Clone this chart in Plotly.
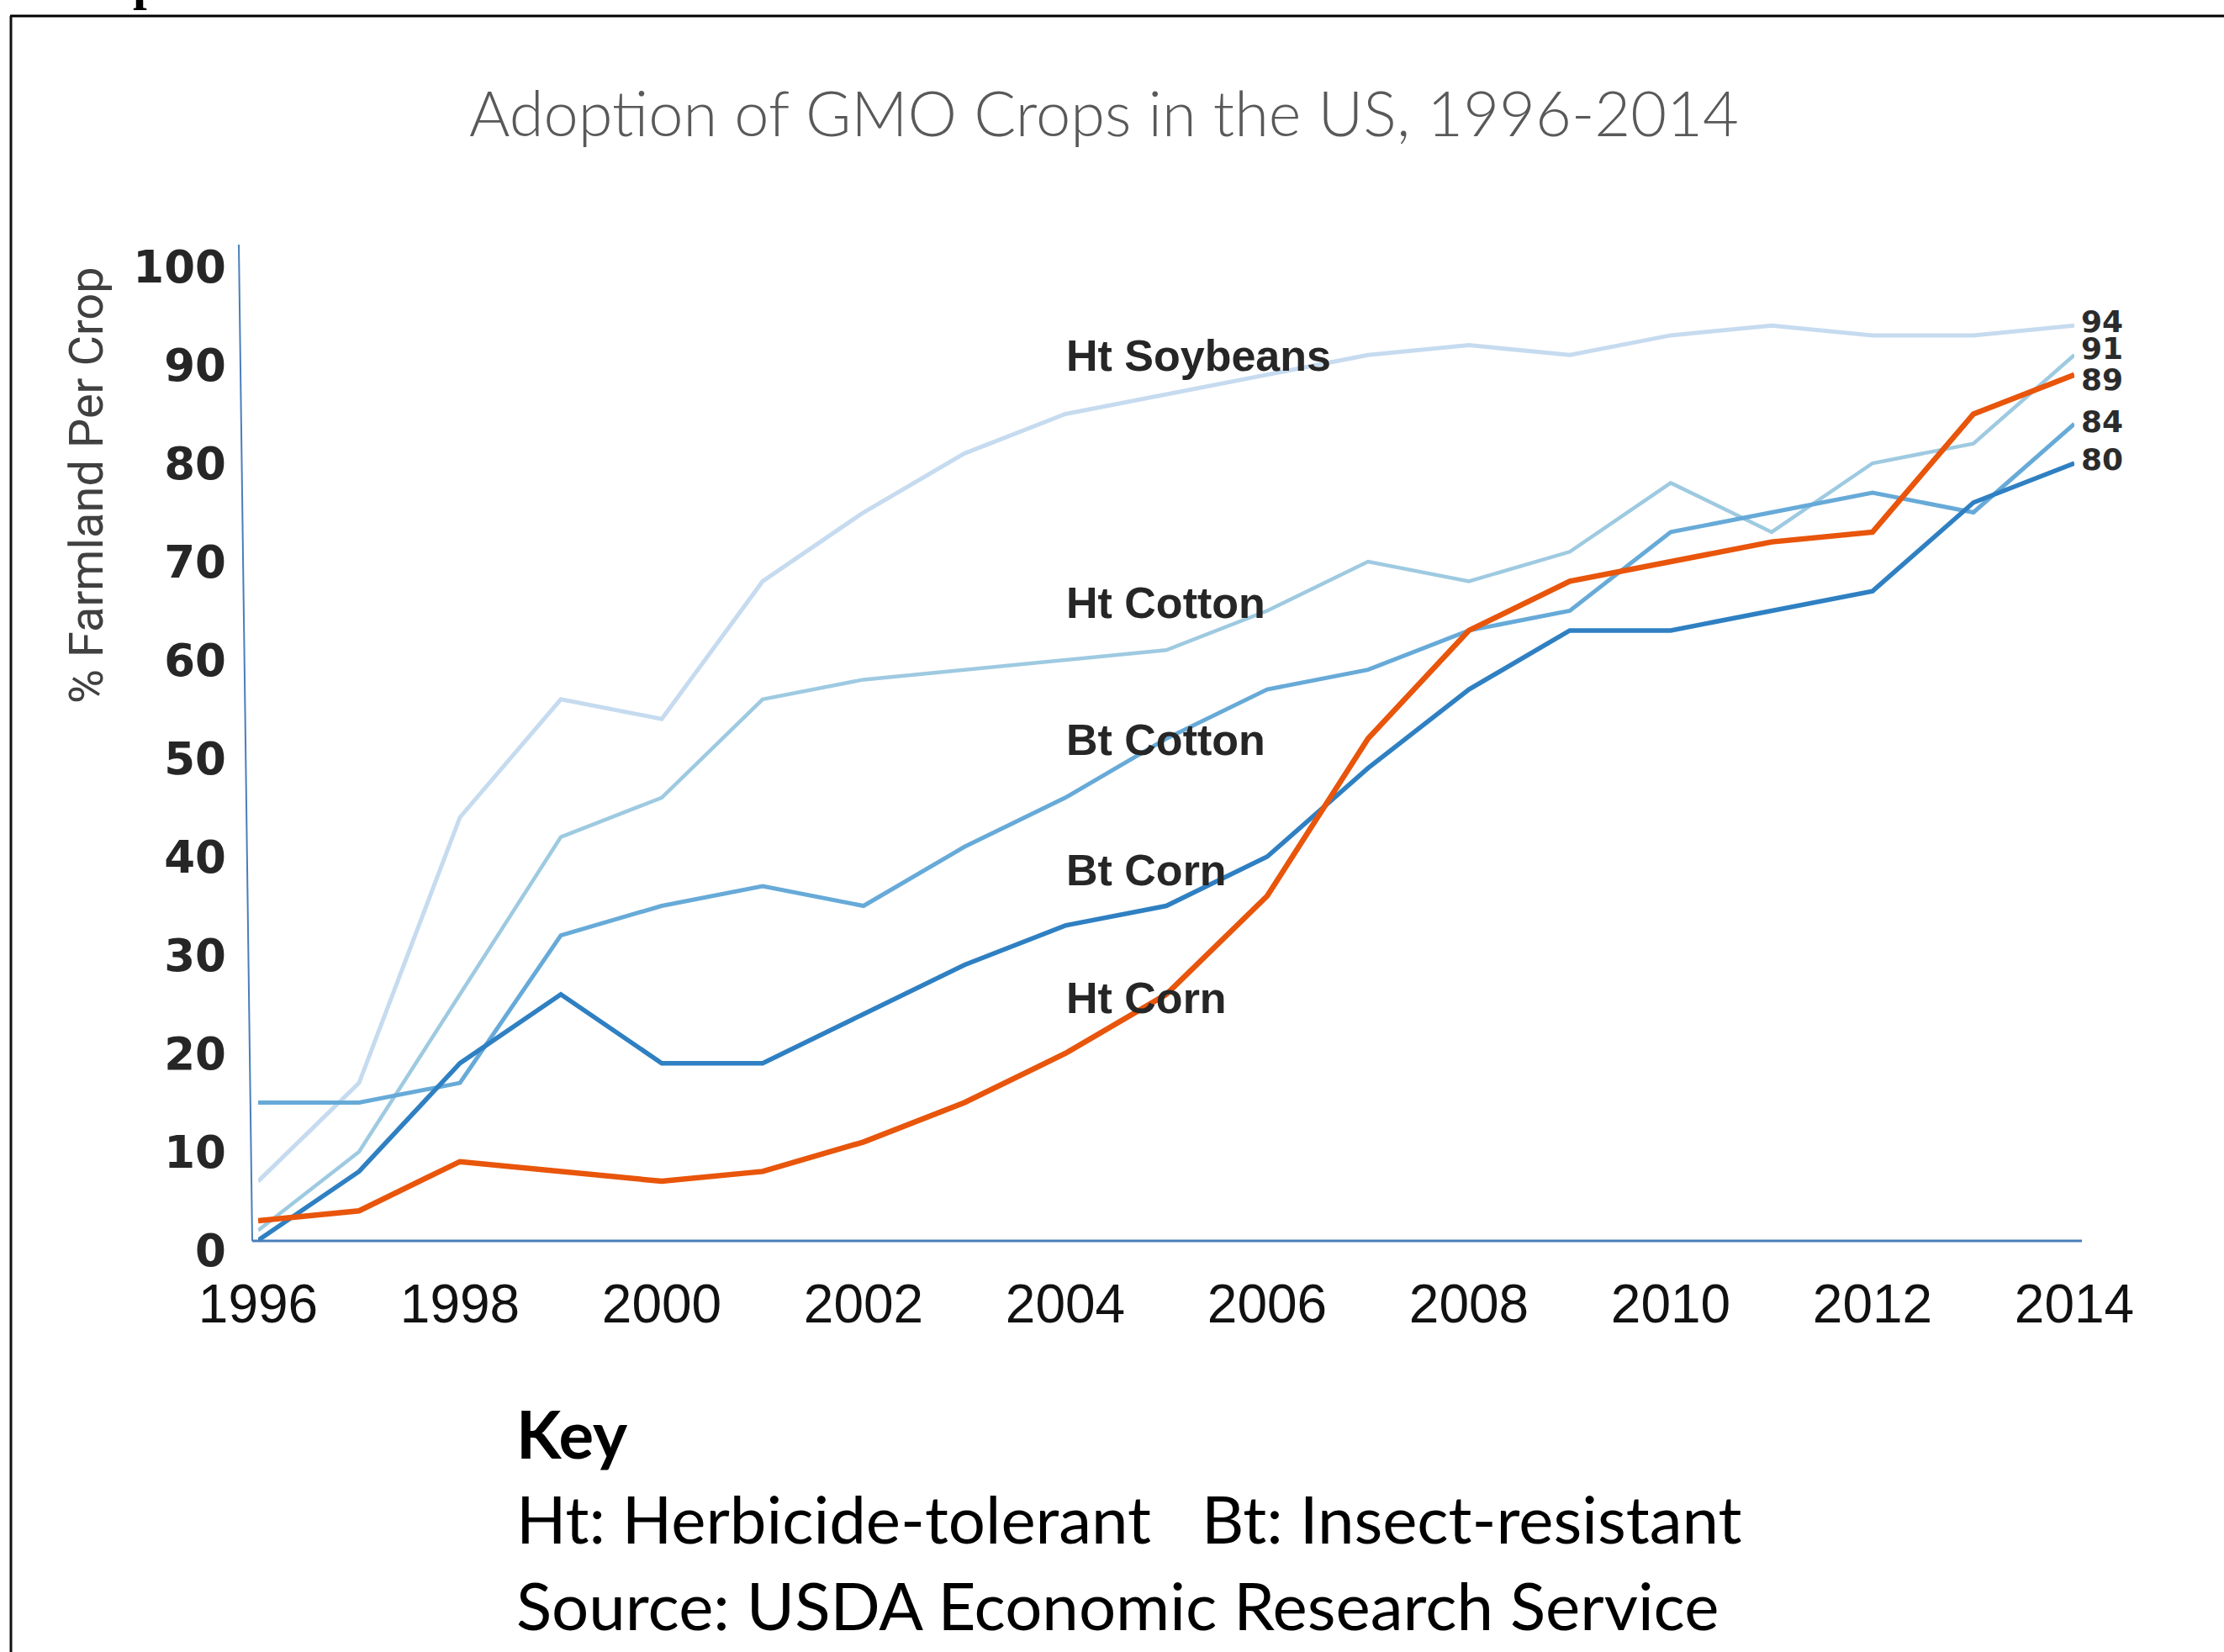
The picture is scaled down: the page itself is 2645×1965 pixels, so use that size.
import plotly.graph_objects as go

# ---- data: share of US planted acreage using GE varieties (%) ----
years = list(range(1996, 2015))
ht_soybeans = [7, 17, 44, 56, 54, 68, 75, 81, 85, 87, 89, 91, 92, 91, 93, 94, 93, 93, 94]
ht_cotton = [2, 10, 26, 42, 46, 56, 58, 59, 60, 61, 65, 70, 68, 71, 78, 73, 80, 82, 91]
bt_cotton = [15, 15, 17, 32, 35, 37, 35, 41, 46, 52, 57, 59, 63, 65, 73, 75, 77, 75, 84]
bt_corn = [1, 8, 19, 26, 19, 19, 24, 29, 33, 35, 40, 49, 57, 63, 63, 65, 67, 76, 80]
ht_corn = [3, 4, 9, 8, 7, 8, 11, 15, 20, 26, 36, 52, 63, 68, 70, 72, 73, 85, 89]

series_names = ["Ht Soybeans", "Ht Cotton", "Bt Cotton", "Bt Corn", "Ht Corn"]
series_values = [ht_soybeans, ht_cotton, bt_cotton, bt_corn, ht_corn]
series_colors = ["#c6dbef", "#9ecae1", "#67aad8", "#2f80c2", "#e8550b"]
series_widths = [5, 4.5, 5, 5.5, 6.5]

x_ticks = list(range(1996, 2015, 2))
y_ticks = list(range(0, 101, 10))

title_text = "Adoption of GMO Crops in the US, 1996-2014"
y_title = "% Farmland Per Crop"
key_lines = ["<b>Key</b>",
             "Ht: Herbicide-tolerant   Bt: Insect-resistant",
             "Source: USDA Economic Research Service"]

# ---- page geometry (pixels) ----
W, H = 2645, 1965


def fx(px):
    return px / W


def fy(py):
    return 1 - py / H


fig = go.Figure()

for name, vals, col, lw in zip(series_names, series_values, series_colors, series_widths):
    fig.add_trace(go.Scatter(x=years, y=vals, mode="lines", name=name,
                             line=dict(color=col, width=lw), hoverinfo="skip"))

annotations = []

# in-chart series names
label_pos = {"Ht Soybeans": 423, "Ht Cotton": 717, "Bt Cotton": 880,
             "Bt Corn": 1035, "Ht Corn": 1187}
for name in series_names:
    annotations.append(dict(xref="paper", yref="paper", x=fx(1266), y=fy(label_pos[name]),
                            xanchor="left", yanchor="middle", text=name, showarrow=False,
                            font=dict(family="Liberation Sans", size=52, color="#262626",
                                      weight="bold")))

# end-of-line values, nudged apart vertically
end_shift = {"Ht Soybeans": 5, "Ht Cotton": 8, "Bt Cotton": 3, "Bt Corn": 5, "Ht Corn": -6}
for name, vals in zip(series_names, series_values):
    annotations.append(dict(xref="x", yref="y", x=years[-1], y=vals[-1], xanchor="left",
                            yanchor="middle", xshift=6, yshift=end_shift[name],
                            text=str(vals[-1]), showarrow=False,
                            font=dict(family="DejaVu Sans", size=36, color="#2b2b2b",
                                      weight="bold")))

# title
annotations.append(dict(xref="paper", yref="paper", x=fx(1313), y=fy(133), xanchor="center",
                        yanchor="middle", text=title_text, showarrow=False,
                        font=dict(family="Lato", size=74, color="#595959", weight=300)))

# y-axis title
annotations.append(dict(xref="paper", yref="paper", x=fx(103), y=fy(577), xanchor="center",
                        yanchor="middle", text=y_title, textangle=-90, showarrow=False,
                        font=dict(family="Roboto", size=56, color="#404040")))

# key / source lines
key_y = [1705, 1806, 1909]
for txt, yy in zip(key_lines, key_y):
    annotations.append(dict(xref="paper", yref="paper", x=fx(612), y=fy(yy), xanchor="left",
                            yanchor="middle", text=txt, showarrow=False,
                            font=dict(family="Lato", size=78, color="#000000")))

# descender of a heading cut off at the top edge
annotations.append(dict(xref="paper", yref="paper", x=fx(175), y=fy(14), xanchor="center",
                        yanchor="bottom", text="<b>p</b>", showarrow=False,
                        font=dict(family="Liberation Serif", size=60, color="#000000")))

shapes = [
    # outer frame (top and left edges)
    dict(type="line", xref="paper", yref="paper", x0=fx(12), x1=1, y0=fy(19), y1=fy(19),
         line=dict(color="#000000", width=3)),
    dict(type="line", xref="paper", yref="paper", x0=fx(13), x1=fx(13), y0=fy(19), y1=0,
         line=dict(color="#111111", width=3)),
    # chart axes
    dict(type="line", xref="paper", yref="paper", x0=fx(284), x1=fx(300), y0=fy(291),
         y1=fy(1476), line=dict(color="#4a7ebb", width=2)),
    dict(type="line", xref="paper", yref="paper", x0=fx(300), x1=fx(2476), y0=fy(1476),
         y1=fy(1476), line=dict(color="#4a7ebb", width=3)),
]

fig.update_layout(
    width=W, height=H, autosize=False,
    margin=dict(l=0, r=0, t=0, b=0, pad=0, autoexpand=False),
    paper_bgcolor="white", plot_bgcolor="rgba(0,0,0,0)",
    showlegend=False,
    annotations=annotations,
    shapes=shapes,
    xaxis=dict(domain=[fx(307), fx(2467)], range=[1996, 2014], tickmode="array",
               tickvals=x_ticks, ticktext=[str(t) for t in x_ticks], automargin=False,
               showline=False, showgrid=False, zeroline=False, ticks="",
               ticklabelstandoff=21,
               tickfont=dict(family="Liberation Sans", size=64, color="#111111")),
    yaxis=dict(domain=[fy(1487), fy(317)], range=[0, 100], tickmode="array",
               tickvals=y_ticks, ticktext=[str(t) for t in y_ticks], automargin=False,
               showline=False, showgrid=False, zeroline=False, ticks="",
               ticklabelstandoff=37,
               tickfont=dict(family="DejaVu Sans", size=53, color="#262626",
                             weight="bold")),
)

fig.write_html("out.html")
